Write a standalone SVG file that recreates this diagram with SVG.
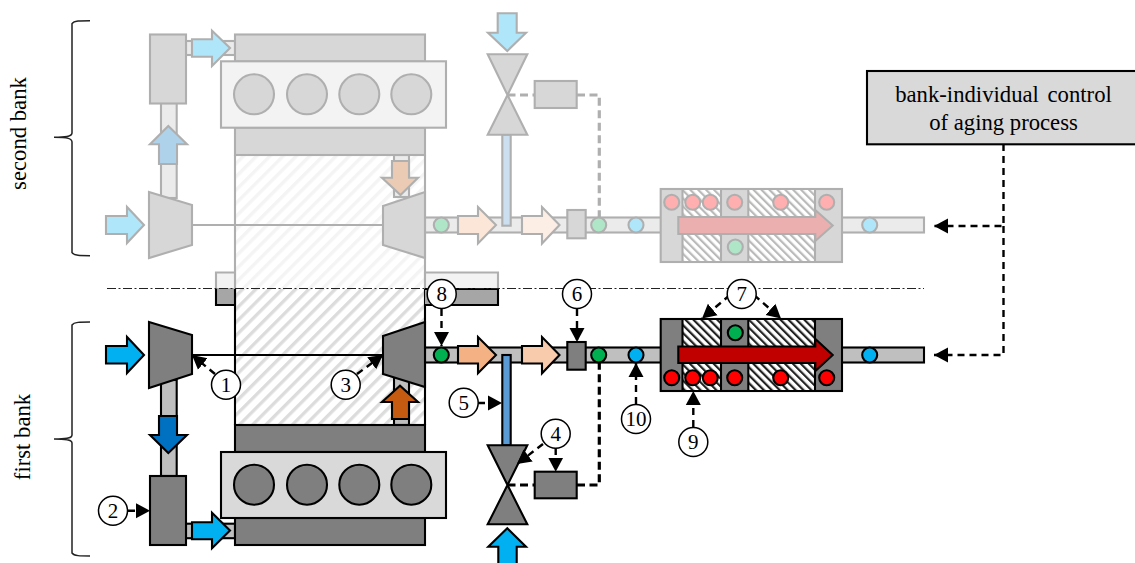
<svg xmlns="http://www.w3.org/2000/svg" width="1135" height="563" viewBox="0 0 1135 563">
<style>
.s{stroke:#000;stroke-width:2.1;stroke-linejoin:miter}
.d{fill:#7f7f7f}.l{fill:#d9d9d9}.p{fill:#bfbfbf}.sl{fill:#a6a6a6}
.air{fill:#00b0f0}.cool{fill:#0070c0}.egr{fill:#5b9bd5}.hot{fill:#c55a11}.o1{fill:#f4b183}.o2{fill:#f8cbad}.cat{fill:#c00000}
.g{fill:#00b050}.b{fill:#00b0f0}.r{fill:#ff0000}
.h1{fill:url(#hatchBig)}.h2{fill:url(#hatchCat)}
.line{fill:none;stroke:#000;stroke-width:2.1}
.dash{fill:none;stroke:#000;stroke-width:2.4;stroke-dasharray:7 5;marker-end:url(#ah)}
.dash2{fill:none;stroke:#000;stroke-width:3.2;stroke-dasharray:8 4.5}
.num{fill:#fff;stroke:#000;stroke-width:1.5}
text{font-family:"Liberation Serif","Times New Roman",serif;fill:#000}
.n{font-size:21px;text-anchor:middle}
.t{font-size:22.7px;text-anchor:middle}
.brace{fill:none;stroke:#222;stroke-width:1.5}
</style>
<defs>
<pattern id="hatchBig" width="13" height="13" patternUnits="userSpaceOnUse" patternTransform="rotate(45) scale(0.72)"><rect width="13" height="13" fill="#fff"/><rect width="4.6" height="13" fill="#dcdcdc"/></pattern>
<pattern id="hatchCat" width="5.6" height="5.6" patternUnits="userSpaceOnUse" patternTransform="rotate(-45)"><rect width="5.6" height="5.6" fill="#fff"/><rect width="2.2" height="5.6" fill="#222"/></pattern>
<marker id="ah" markerUnits="userSpaceOnUse" markerWidth="16" markerHeight="16" refX="14" refY="8" orient="auto"><path d="M0,0.5 L14,8 L0,15.5 Z" fill="#000"/></marker>
</defs>
<rect width="1135" height="563" fill="#fff"/>

<g id="second-bank" opacity="0.31">
<g id="block2"><rect class="h1" x="235" y="155" width="190" height="134"/><path class="line" d="M235,155 V289 M425,155 V289"/><path class="s l" d="M216,289 V272.5 H235 V289 Z"/><path class="s l" d="M425,289 V272.5 H498 V289 Z"/></g>
<g id="pipes2" class="s p"><rect x="161" y="103" width="15.7" height="95"/><rect x="186" y="41" width="49" height="14"/><rect x="394" y="155" width="15" height="42"/><rect x="425" y="217.5" width="499" height="15"/></g>
<g id="engine2"><rect class="s d" x="235" y="34.5" width="190" height="27"/><rect class="s d" x="235" y="127.5" width="190" height="27.5"/><rect class="s l" x="221" y="61.3" width="225" height="66.4"/><circle class="s d" cx="254" cy="94.3" r="20"/><circle class="s d" cx="307" cy="94.3" r="20"/><circle class="s d" cx="359.3" cy="94.3" r="20"/><circle class="s d" cx="411.3" cy="94.3" r="20"/></g>
<g id="cooler2"><rect class="s d" x="150" y="34.5" width="36" height="69"/></g>
<path class="line" d="M192,225 H383"/>
<g id="compressor2"><polygon class="s d" points="149,192 192,205 192,245 149,258"/></g>
<g id="turbine2"><polygon class="s d" points="425,192 383,206 383,245 425,258"/></g>
<polygon class="s air" points="106,216 127,216 127,207 144,225 127,243 127,234 106,234"/>
<polygon class="s cool" points="159,164 159,144.3 150,144.3 168.3,126 187,144.3 177,144.3 177,164"/>
<polygon class="s air" points="192,39.3 212,39.3 212,30.7 230,48 212,66 212,56.7 192,56.7"/>
<polygon class="s hot" points="392,161 409,161 409,177.7 418,177.7 400.5,195 382,177.7 392,177.7"/>
<rect class="s egr" x="502.3" y="134.7" width="8.4" height="91"/>
<polygon class="s o1" points="458,216 478,216 478,207 496,225 478,243.5 478,234 458,234"/>
<polygon class="s o2" points="522,216 542,216 542,207 559.5,225 542,243.5 542,234 522,234"/>
<g id="valve2"><polygon class="s d" points="487.7,54.3 527.3,54.3 507.5,95 527.3,134.7 487.7,134.7 507.5,95"/></g>
<polygon class="s air" points="497.7,13.3 516.7,13.3 516.7,32.7 526,32.7 507.3,51 488,32.7 497.7,32.7"/>
<path class="dash2" d="M507.5,95 H535 M577,95 H599.3 V217"/>
<g id="controller2"><rect class="s d" x="534.7" y="81" width="42" height="27"/></g>
<g id="sensor2"><rect class="s d" x="567.3" y="210" width="18.4" height="28.3"/></g>
<g id="catalyst2"><rect class="s d" x="660.7" y="189" width="181.3" height="73"/><rect class="h2" x="683" y="190" width="38" height="26"/><rect class="h2" x="683" y="235" width="38" height="26"/><rect class="h2" x="749" y="190" width="66" height="26"/><rect class="h2" x="749" y="235" width="66" height="26"/>
<path class="line" d="M682.5,189 V262 M721,189 V262 M748.3,189 V262 M815,189 V262"/></g>
<polygon class="s cat" points="678.3,217 815.3,217 815.3,210 832.7,225.5 815.3,241 815.3,234 678.3,234"/>
<g class="s"><circle class="g" cx="441.3" cy="225" r="7.5"/><circle class="g" cx="598.7" cy="225" r="7.5"/><circle class="b" cx="636" cy="225" r="7.5"/><circle class="b" cx="869.7" cy="225" r="7.5"/><circle class="g" cx="735.3" cy="247" r="7.5"/>
<circle class="r" cx="671.7" cy="202.3" r="7.5"/><circle class="r" cx="692.7" cy="202.3" r="7.5"/><circle class="r" cx="710.3" cy="202.3" r="7.5"/><circle class="r" cx="734.7" cy="202.3" r="7.5"/><circle class="r" cx="780.7" cy="202.3" r="7.5"/><circle class="r" cx="826.7" cy="202.3" r="7.5"/></g>
</g>

<g id="first-bank">
<g id="block1"><rect class="h1" x="235" y="289" width="190" height="136"/><path class="line" d="M235,289 V425 M425,289 V425"/><path class="s sl" d="M216,289 V305 H235 V289"/><path class="s sl" d="M425,289 H498 V305 H425"/></g>
<g id="pipes1" class="s p"><rect x="161" y="380" width="15.7" height="96"/><rect x="186" y="523.7" width="49" height="14.5"/><rect x="394" y="374" width="15" height="51"/><rect x="425" y="347.5" width="499" height="15"/></g>
<g id="engine1"><rect class="s d" x="235" y="425" width="190" height="27"/><rect class="s d" x="235" y="518" width="190" height="27"/><rect class="s l" x="221" y="452" width="225" height="66"/><circle class="s d" cx="254" cy="484.7" r="20"/><circle class="s d" cx="307" cy="484.7" r="20"/><circle class="s d" cx="359.3" cy="484.7" r="20"/><circle class="s d" cx="411.3" cy="484.7" r="20"/></g>
<g id="cooler1"><rect class="s d" x="150" y="476" width="36" height="69"/></g>
<path class="line" d="M192,355 H383"/>
<g id="compressor1"><polygon class="s d" points="149,322 192,335 192,374 149,388"/></g>
<g id="turbine1"><polygon class="s d" points="425,322 383,336 383,374 425,387"/></g>
<polygon class="s air" points="106,346 127,346 127,337 144,355 127,373 127,363.5 106,363.5"/>
<polygon class="s cool" points="159,416 177,416 177,435 187,435 168.3,453 150,435 159,435"/>
<polygon class="s air" points="192,522.3 212,522.3 212,512.7 230,530.5 212,548.3 212,539.3 192,539.3"/>
<polygon class="s hot" points="392,419 409,419 409,402 418,402 400,385.7 382,402 392,402"/>
<rect class="s egr" x="502.3" y="355" width="8.4" height="90.3"/>
<polygon class="s o1" points="458,346 478,346 478,337 496,355 478,373.3 478,363.5 458,363.5"/>
<polygon class="s o2" points="522,346 542,346 542,337 559.5,355 542,373.3 542,363.5 522,363.5"/>
<g id="valve1"><polygon class="s d" points="487.7,445.3 527.3,445.3 507.5,485 527.3,524.3 487.7,524.3 507.5,485"/></g>
<polygon class="s air" points="498.3,566 498.3,546.7 488.3,546.7 507.3,528.3 526,546.7 516.7,546.7 516.7,566"/>
<g id="controller1"><rect class="s d" x="534.7" y="471.7" width="42" height="26.6"/></g>
<g id="sensor1"><rect class="s d" x="567.3" y="342" width="18.4" height="27.7"/></g>
<g id="catalyst1"><rect class="s d" x="660.7" y="319" width="181.3" height="72"/><rect class="h2" x="683" y="320" width="38" height="26"/><rect class="h2" x="683" y="364" width="38" height="26"/><rect class="h2" x="749" y="320" width="66" height="26"/><rect class="h2" x="749" y="364" width="66" height="26"/>
<path class="line" d="M682.5,319 V391 M721,319 V391 M748.3,319 V391 M815,319 V391"/></g>
<polygon class="s cat" points="678.3,346.5 815.3,346.5 815.3,339 832.7,355 815.3,371 815.3,363 678.3,363"/>
<g class="s"><circle class="g" cx="441.3" cy="355" r="7.5"/><circle class="g" cx="598.7" cy="355" r="7.5"/><circle class="b" cx="636" cy="355" r="7.5"/><circle class="b" cx="869.7" cy="355" r="7.5"/><circle class="g" cx="735.3" cy="332.7" r="7.5"/>
<circle class="r" cx="671.7" cy="377.7" r="7.5"/><circle class="r" cx="692.7" cy="377.7" r="7.5"/><circle class="r" cx="710.3" cy="377.7" r="7.5"/><circle class="r" cx="734.7" cy="377.7" r="7.5"/><circle class="r" cx="780.7" cy="377.7" r="7.5"/><circle class="r" cx="826.7" cy="377.7" r="7.5"/></g>
</g>

<path id="divider" d="M107,288.5 H924" fill="none" stroke="#222" stroke-width="1" stroke-dasharray="9 2.5 2 2.5"/>

<g id="connectors">
<path class="dash2" d="M507.5,485 H535 M577,485 H599.3 V363"/>
<path class="dash" d="M215,374 L192,355"/>
<path class="dash" d="M357,374 L383,355"/>
<path class="dash" d="M128,510.7 H150"/>
<path class="dash" d="M441.5,309 V346"/>
<path class="dash" d="M577,309 V342"/>
<path class="dash" d="M730,295 L702,318.5"/>
<path class="dash" d="M754,295 L781,318.5"/>
<path class="dash" d="M478,403 H502"/>
<path class="dash" d="M543,444 L517,464"/>
<path class="dash" d="M555.7,448 V471.7"/>
<path class="dash" d="M636,404 V363"/>
<path class="dash" d="M693.3,427 V391"/>
<path class="dash" d="M1003.5,144 V226 H934"/>
<path class="dash" d="M1003.5,226 V355 H934"/>
</g>

<path class="brace" id="brace-first" d="M90,322 C80,322 74,322 72,325 L72,435 C72,438 68,439 54,439 C68,439 72,440 72,443 L72,553 C74,556 80,556 90,556"/>
<path class="brace" id="brace-second" d="M90,20.7 C80,20.7 74,20.7 72,23.7 L72,133 C72,136 68,137.3 54,137.3 C68,137.3 72,138.6 72,142 L72,252.7 C74,255.7 80,255.7 90,255.7"/>
<text class="t" transform="translate(30,437) rotate(-90)">first bank</text>
<text class="t" transform="translate(26,133.5) rotate(-90)">second bank</text>

<g id="control-box"><rect class="s l" x="867" y="71" width="280" height="73.3"/>
<text class="t" x="1003.5" y="102" word-spacing="3">bank-individual control</text>
<text class="t" x="1003.5" y="130">of aging process</text></g>

<g id="label-1"><circle class="num" cx="226" cy="384.7" r="14.5"/><text class="n" x="226" y="391.7">1</text></g>
<g id="label-2"><circle class="num" cx="113" cy="510.7" r="14.5"/><text class="n" x="113" y="517.7">2</text></g>
<g id="label-3"><circle class="num" cx="345.7" cy="384.7" r="14.5"/><text class="n" x="345.7" y="391.7">3</text></g>
<g id="label-4"><circle class="num" cx="555.7" cy="433.7" r="14.5"/><text class="n" x="555.7" y="440.7">4</text></g>
<g id="label-5"><circle class="num" cx="463.7" cy="402.7" r="14.5"/><text class="n" x="463.7" y="409.7">5</text></g>
<g id="label-6"><circle class="num" cx="577" cy="294" r="14.5"/><text class="n" x="577" y="301">6</text></g>
<g id="label-7"><circle class="num" cx="741.7" cy="294" r="14.5"/><text class="n" x="741.7" y="301">7</text></g>
<g id="label-8"><circle class="num" cx="441.7" cy="294" r="14.5"/><text class="n" x="441.7" y="301">8</text></g>
<g id="label-9"><circle class="num" cx="693.3" cy="442" r="14.5"/><text class="n" x="693.3" y="449">9</text></g>
<g id="label-10"><circle class="num" cx="636" cy="419" r="14.5"/><text class="n" x="636" y="426">10</text></g>
</svg>
